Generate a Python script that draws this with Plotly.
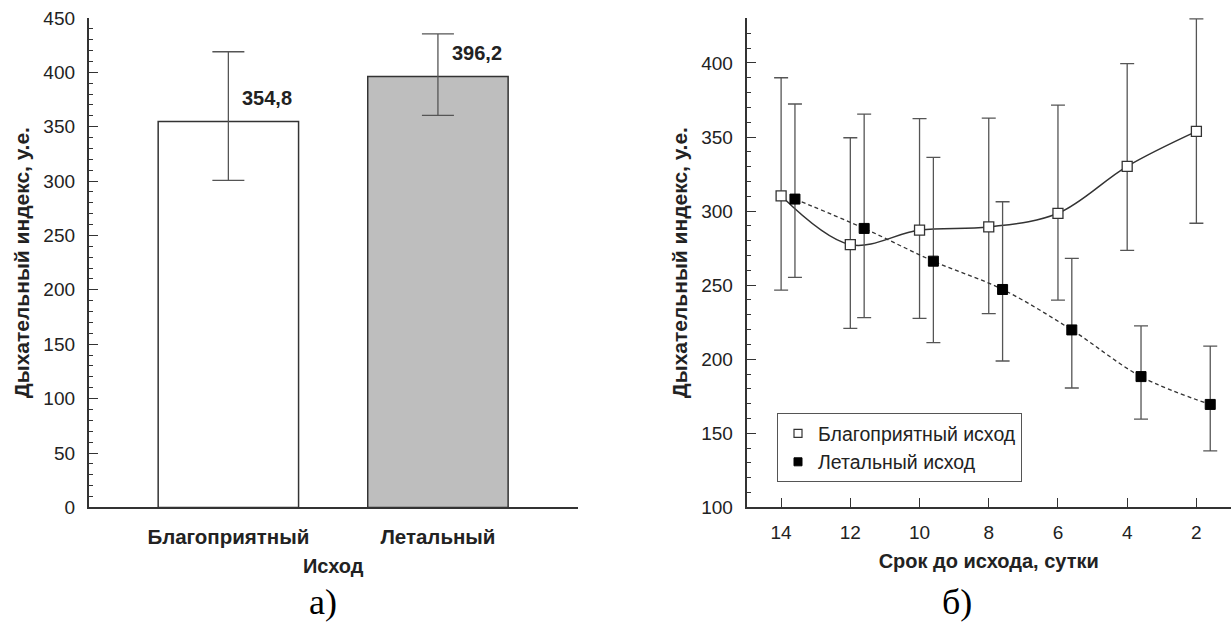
import plotly.graph_objects as go

# ---------------- data ----------------
outcomes = ["Благоприятный", "Летальный"]
bar_means = [354.8, 396.2]
bar_upper = [418.9, 435.4]
bar_lower = [300.7, 360.4]
bar_labels = ["354,8", "396,2"]

days = [14, 12, 10, 8, 6, 4, 2]
fav_mean = [310.3, 277.3, 287.2, 289.3, 298.5, 330.2, 353.8]
fav_upper = [390.0, 349.5, 362.4, 362.7, 371.5, 399.5, 429.8]
fav_lower = [246.6, 220.8, 227.6, 230.8, 239.9, 273.5, 291.8]
let_mean = [308.1, 288.3, 266.2, 247.1, 219.8, 188.3, 169.5]
let_upper = [372.3, 365.4, 336.3, 306.3, 268.1, 222.5, 208.8]
let_lower = [255.2, 228.1, 211.2, 198.8, 180.6, 159.6, 138.1]

y_title = "Дыхательный индекс, у.е."
x1_title = "Исход"
x2_title = "Срок до исхода, сутки"
legend_names = ["Благоприятный исход", "Летальный исход"]
captions = ["а)", "б)"]

# ---------------- style ----------------
W, H = 1232, 624
FONT = "Liberation Sans, Arial, sans-serif"
SERIF = "Liberation Serif, Times New Roman, serif"
TXT = "#222222"
AX = "#333333"
ERR = "#555555"
let_offset = 0.4

def px_x(p):
    return p / W

def px_y(p):
    return 1 - p / H

fig = go.Figure()

# ---- left: bars ----
fig.add_trace(go.Bar(
    x=outcomes, y=bar_means,
    marker=dict(color=["#ffffff", "#bebebe"], line=dict(color=AX, width=1.5)),
    width=0.67,
    error_y=dict(type="data", symmetric=False,
                 array=[u - m for u, m in zip(bar_upper, bar_means)],
                 arrayminus=[m - l for m, l in zip(bar_means, bar_lower)],
                 color=ERR, thickness=1.3, width=16),
    xaxis="x", yaxis="y", showlegend=False,
))

for cat, val, lab in zip(outcomes, bar_means, bar_labels):
    fig.add_annotation(x=cat, y=val, xref="x", yref="y", text="<b>" + lab + "</b>",
                       showarrow=False, xshift=39, yshift=23,
                       font=dict(family=FONT, size=20, color=TXT))

# ---- right: lines ----
fig.add_trace(go.Scatter(
    x=days, y=fav_mean, mode="lines+markers",
    line=dict(color=AX, width=1.5, shape="spline", smoothing=1.0),
    marker=dict(symbol="square", size=10, color="#ffffff", line=dict(color=AX, width=1.3)),
    error_y=dict(type="data", symmetric=False,
                 array=[u - m for u, m in zip(fav_upper, fav_mean)],
                 arrayminus=[m - l for m, l in zip(fav_mean, fav_lower)],
                 color=ERR, thickness=1.3, width=7),
    xaxis="x2", yaxis="y2", showlegend=False,
))
fig.add_trace(go.Scatter(
    x=[d - let_offset for d in days], y=let_mean, mode="lines+markers",
    line=dict(color=AX, width=1.3, dash="4px,3px", shape="spline", smoothing=1.0),
    marker=dict(symbol="square", size=10, color="#000000", line=dict(color="#000000", width=1)),
    error_y=dict(type="data", symmetric=False,
                 array=[u - m for u, m in zip(let_upper, let_mean)],
                 arrayminus=[m - l for m, l in zip(let_mean, let_lower)],
                 color=ERR, thickness=1.3, width=7),
    xaxis="x2", yaxis="y2", showlegend=False,
))
# legend entries (marker only)
fig.add_trace(go.Scatter(
    x=[None], y=[None], mode="markers", name=legend_names[0],
    marker=dict(symbol="square", size=8, color="#ffffff", line=dict(color=AX, width=1.2)),
    xaxis="x2", yaxis="y2",
))
fig.add_trace(go.Scatter(
    x=[None], y=[None], mode="markers", name=legend_names[1],
    marker=dict(symbol="square", size=8, color="#000000", line=dict(color="#000000", width=1)),
    xaxis="x2", yaxis="y2",
))

ytop, ybot = 17.9, 507.4
dom_y = [px_y(ybot), px_y(ytop)]

common_y = dict(showline=True, linecolor=AX, linewidth=1.5, showgrid=False, zeroline=False,
                automargin=False,
                ticks="inside", ticklen=10, tickwidth=1.3, tickcolor=AX, dtick=50,
                ticklabelstandoff=8,
                minor=dict(ticks="inside", ticklen=5, tickwidth=1.2, tickcolor=AX, dtick=10),
                tickfont=dict(family=FONT, size=19, color=TXT),
                title=dict(text="<b>" + y_title + "</b>", font=dict(family=FONT, size=21, color=TXT),
                           standoff=8))

fig.update_layout(
    width=W, height=H, autosize=False,
    margin=dict(l=0, r=0, t=0, b=0),
    paper_bgcolor="white", plot_bgcolor="white",
    font=dict(family=FONT, color=TXT),
    bargap=0.33,
    xaxis=dict(domain=[px_x(88.6), px_x(577.7)], anchor="y", type="category",
               range=[-0.667, 1.667], showline=True, linecolor=AX, linewidth=1.5,
               showgrid=False, ticks="", ticklabelstandoff=10, automargin=False,
               tickfont=dict(family=FONT, size=20.5, color=TXT),
               tickvals=outcomes, ticktext=["<b>" + o + "</b>" for o in outcomes],
               title=dict(text="<b>" + x1_title + "</b>", font=dict(family=FONT, size=20, color=TXT),
                          standoff=12)),
    yaxis=dict(domain=dom_y, anchor="x", range=[0, 450], **common_y),
    xaxis2=dict(domain=[px_x(746.5), px_x(1231)], anchor="y2", range=[15, 1],
                showline=True, linecolor=AX, linewidth=1.5, showgrid=False, zeroline=False,
                ticks="inside", ticklen=10, tickwidth=1.3, tickcolor=AX, automargin=False,
                tickmode="array", tickvals=days, ticklabelstandoff=7,
                tickfont=dict(family=FONT, size=19, color=TXT),
                title=dict(text="<b>" + x2_title + "</b>", font=dict(family=FONT, size=20, color=TXT),
                           standoff=12)),
    yaxis2=dict(domain=dom_y, anchor="x2", range=[100, 430.4], **common_y),
    legend=dict(x=px_x(777), y=px_y(413.3), xanchor="left", yanchor="top",
                bgcolor="white", bordercolor="#555555", borderwidth=1,
                font=dict(family=FONT, size=19.5, color=TXT),
                tracegroupgap=0, itemsizing="trace"),
)

fig.add_annotation(x=px_x(322.5), y=px_y(624), xref="paper", yref="paper", text=captions[0],
                   showarrow=False, xanchor="center", yanchor="bottom",
                   font=dict(family=SERIF, size=36, color="#000000"))
fig.add_annotation(x=px_x(956.5), y=px_y(624), xref="paper", yref="paper", text=captions[1],
                   showarrow=False, xanchor="center", yanchor="bottom",
                   font=dict(family=SERIF, size=36, color="#000000"))

fig.write_html("out.html", config={"displayModeBar": False},
               post_script="document.body.style.margin='0';")
